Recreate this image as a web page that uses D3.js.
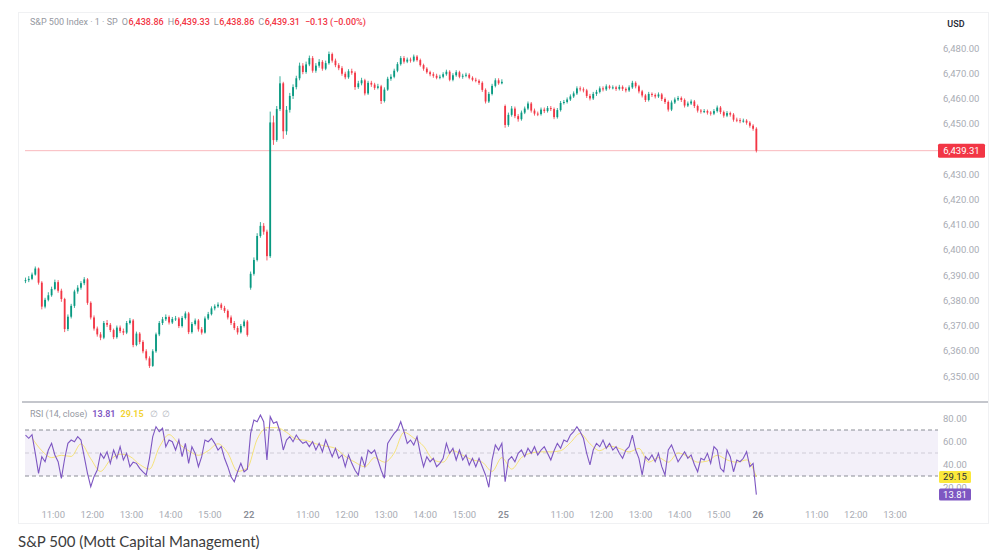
<!DOCTYPE html>
<html>
<head>
<meta charset="utf-8">
<script src="https://cdn.jsdelivr.net/npm/d3@7/dist/d3.min.js"></script>
<style>
  body { margin: 0; background: #fff; }
  svg text { font-family: Roboto, "Noto Sans", sans-serif; }
  .caption { font-family: Lato, "Open Sans", sans-serif; }
</style>
</head>
<body>
<div id="chart"></div>
<script>
// ---- data (5 minute bars) ----
var sessionNames = ["21", "22", "25", "26"];
var firstBarMinute = [45, 0, 0];          // minutes after 9:30 of the first bar shown
var sessionOpen = [6387.6, 6385.0, 6457.0];

var aug21Close = [6388.0, 6388.5, 6390.2, 6392.6, 6387.0, 6377.5, 6380.2, 6382.0, 6384.5, 6387.2,
  6383.8, 6380.5, 6368.6, 6373.5, 6377.8, 6383.5, 6385.0, 6386.8, 6388.3, 6379.0,
  6373.2, 6368.8, 6366.5, 6365.2, 6371.0, 6370.3, 6368.2, 6365.4, 6369.2, 6367.8,
  6367.2, 6371.0, 6372.0, 6362.3, 6366.8, 6363.5, 6359.8, 6357.0, 6354.0, 6359.8,
  6366.5, 6371.0, 6372.5, 6373.4, 6371.2, 6372.6, 6372.8, 6369.8, 6373.0, 6374.8,
  6367.4, 6370.6, 6372.0, 6368.5, 6367.2, 6372.8, 6374.5, 6376.8, 6377.6, 6378.3,
  6377.0, 6375.8, 6373.2, 6371.0, 6369.0, 6367.3, 6369.8, 6371.6, 6366.3];
var aug21High = [6389.0, 6389.6, 6391.0, 6393.4, 6393.0, 6387.6, 6381.0, 6383.2, 6385.4, 6388.2,
  6388.0, 6384.6, 6381.0, 6374.4, 6378.6, 6384.2, 6386.0, 6387.6, 6389.2, 6388.8,
  6379.6, 6374.0, 6369.6, 6367.4, 6371.8, 6372.2, 6371.0, 6368.8, 6370.0, 6370.0,
  6368.8, 6371.8, 6373.0, 6372.6, 6367.6, 6367.4, 6364.2, 6360.6, 6357.8, 6360.6,
  6367.2, 6371.8, 6373.4, 6374.4, 6374.0, 6373.4, 6373.8, 6373.4, 6373.8, 6375.6,
  6375.4, 6371.4, 6372.8, 6372.6, 6369.4, 6373.6, 6375.4, 6377.6, 6378.4, 6379.2,
  6379.0, 6377.8, 6376.4, 6374.0, 6371.8, 6369.8, 6370.6, 6372.4, 6372.2];
var aug21Low = [6386.8, 6387.2, 6388.0, 6389.8, 6386.2, 6376.4, 6376.8, 6379.6, 6381.4, 6384.0,
  6383.0, 6379.4, 6367.4, 6367.8, 6372.8, 6377.0, 6382.6, 6384.2, 6386.0, 6378.2,
  6372.4, 6368.0, 6365.6, 6364.2, 6364.6, 6369.4, 6367.4, 6364.6, 6364.8, 6367.0,
  6366.2, 6366.6, 6370.4, 6361.4, 6361.8, 6362.6, 6359.0, 6356.2, 6353.2, 6353.6,
  6359.2, 6365.8, 6370.2, 6371.8, 6370.4, 6370.6, 6371.8, 6369.0, 6369.2, 6372.4,
  6366.6, 6366.8, 6370.0, 6367.6, 6366.4, 6366.8, 6372.2, 6374.0, 6376.0, 6377.0,
  6376.2, 6375.0, 6372.4, 6370.2, 6368.2, 6366.4, 6366.8, 6369.2, 6365.6];

var aug22Close = [6390.5, 6396.0, 6405.5, 6409.5, 6407.2, 6397.5, 6450.5, 6443.5, 6455.8, 6466.0,
  6447.0, 6455.5, 6461.0, 6464.5, 6468.0, 6473.0, 6470.5, 6473.5, 6476.0, 6471.0,
  6473.0, 6474.5, 6471.8, 6474.0, 6477.6, 6475.0, 6473.2, 6472.0, 6469.8, 6468.4,
  6470.8, 6470.2, 6464.5, 6466.0, 6467.2, 6462.0, 6466.2, 6465.5, 6464.2, 6464.8,
  6459.0, 6463.5, 6467.8, 6468.6, 6471.0, 6473.6, 6476.0, 6474.6, 6475.4, 6475.0,
  6476.6, 6475.2, 6473.2, 6471.8, 6470.4, 6469.6, 6469.0, 6468.2, 6468.6, 6469.6,
  6470.6, 6467.4, 6469.2, 6470.4, 6468.6, 6469.0, 6469.4, 6468.2, 6467.4, 6467.0,
  6466.2, 6463.4, 6458.8, 6461.8, 6465.0, 6467.2, 6466.0, 6466.6];
var aug22High = [6391.4, 6397.0, 6406.6, 6411.0, 6410.6, 6408.0, 6454.8, 6453.2, 6457.0, 6468.8,
  6466.6, 6457.0, 6462.2, 6465.6, 6469.0, 6474.2, 6474.0, 6474.6, 6477.0, 6476.8,
  6474.0, 6475.6, 6475.2, 6475.0, 6478.6, 6478.2, 6475.8, 6474.0, 6472.8, 6470.6,
  6471.6, 6471.8, 6470.8, 6467.0, 6468.2, 6467.8, 6467.0, 6467.0, 6466.2, 6465.8,
  6465.4, 6464.4, 6468.6, 6469.6, 6471.8, 6474.4, 6476.8, 6476.8, 6476.2, 6476.2,
  6477.4, 6477.2, 6475.8, 6473.8, 6472.4, 6471.0, 6470.4, 6469.8, 6469.4, 6470.4,
  6471.4, 6471.2, 6470.0, 6471.2, 6471.0, 6469.8, 6470.2, 6470.0, 6468.8, 6468.2,
  6467.6, 6466.8, 6464.0, 6462.6, 6465.8, 6468.0, 6468.0, 6467.6];
var aug22Low = [6384.2, 6389.8, 6395.4, 6404.8, 6406.0, 6395.8, 6396.8, 6441.6, 6442.8, 6455.0,
  6444.0, 6445.6, 6454.4, 6459.8, 6463.6, 6467.2, 6469.6, 6469.8, 6472.8, 6470.2,
  6470.2, 6472.2, 6471.0, 6471.2, 6473.4, 6474.2, 6472.4, 6471.2, 6469.0, 6467.6,
  6467.8, 6469.4, 6463.4, 6463.8, 6465.2, 6461.2, 6461.4, 6464.6, 6463.4, 6463.6,
  6457.8, 6458.4, 6463.0, 6467.0, 6468.0, 6470.4, 6473.0, 6473.8, 6474.0, 6474.2,
  6474.4, 6474.6, 6472.6, 6471.0, 6469.8, 6468.8, 6468.2, 6467.6, 6467.6, 6468.0,
  6469.0, 6466.8, 6466.8, 6468.6, 6468.0, 6467.8, 6468.4, 6467.6, 6466.8, 6466.4,
  6465.4, 6462.6, 6458.0, 6458.2, 6461.2, 6464.4, 6465.4, 6465.6];

var aug25Close = [6449.5, 6453.5, 6456.0, 6453.0, 6451.8, 6454.4, 6456.0, 6458.0, 6455.2, 6454.0,
  6453.8, 6455.6, 6455.0, 6456.2, 6455.8, 6452.6, 6455.4, 6458.2, 6458.6, 6459.6,
  6460.8, 6462.0, 6464.0, 6463.6, 6463.2, 6461.0, 6460.0, 6461.8, 6462.6, 6464.0,
  6463.6, 6464.8, 6464.2, 6464.4, 6463.8, 6464.6, 6463.8, 6463.2, 6464.4, 6466.2,
  6464.8, 6462.8, 6461.2, 6459.4, 6461.8, 6461.4, 6460.8, 6461.6, 6459.8, 6458.6,
  6455.6, 6458.4, 6459.6, 6460.2, 6459.4, 6457.2, 6458.0, 6458.8, 6457.0, 6455.2,
  6454.8, 6455.0, 6454.4, 6454.0, 6455.0, 6456.4, 6454.6, 6453.2, 6454.2, 6453.6,
  6451.6, 6451.4, 6451.0, 6451.2, 6450.4, 6449.2, 6448.0, 6439.31];
var aug25High = [6457.6, 6454.4, 6457.0, 6456.8, 6453.8, 6455.2, 6456.8, 6458.8, 6458.6, 6456.0,
  6454.8, 6456.4, 6456.4, 6457.0, 6457.0, 6456.4, 6456.2, 6459.0, 6459.4, 6460.4,
  6461.6, 6462.8, 6464.8, 6464.8, 6464.4, 6463.8, 6461.8, 6462.6, 6463.4, 6464.8,
  6464.8, 6465.6, 6465.4, 6465.2, 6465.0, 6465.4, 6465.2, 6464.4, 6465.2, 6467.0,
  6466.8, 6465.4, 6463.4, 6461.8, 6462.6, 6462.4, 6462.0, 6462.4, 6462.2, 6460.4,
  6459.2, 6459.2, 6460.4, 6461.0, 6460.8, 6460.0, 6458.8, 6459.6, 6459.4, 6457.6,
  6455.8, 6455.8, 6455.6, 6455.0, 6455.8, 6457.2, 6457.0, 6455.2, 6455.0, 6454.8,
  6454.2, 6452.4, 6452.2, 6452.0, 6451.8, 6451.0, 6449.8, 6448.6];
var aug25Low = [6448.4, 6448.8, 6452.8, 6452.2, 6450.8, 6451.2, 6453.8, 6455.4, 6454.4, 6453.2,
  6453.0, 6453.2, 6454.2, 6454.4, 6455.0, 6451.8, 6452.0, 6454.8, 6457.6, 6458.0,
  6459.0, 6460.2, 6461.4, 6462.8, 6462.4, 6460.2, 6459.2, 6459.4, 6461.0, 6462.0,
  6462.8, 6463.0, 6463.6, 6463.6, 6463.0, 6463.2, 6463.0, 6462.4, 6462.6, 6463.8,
  6464.0, 6462.0, 6460.4, 6458.6, 6458.8, 6460.6, 6460.0, 6460.2, 6459.0, 6457.8,
  6454.8, 6455.0, 6457.8, 6459.0, 6458.6, 6456.4, 6456.6, 6457.4, 6456.2, 6454.4,
  6454.0, 6454.2, 6453.6, 6453.2, 6453.4, 6454.4, 6453.8, 6452.4, 6452.6, 6452.8,
  6450.8, 6450.6, 6450.2, 6450.4, 6449.6, 6448.4, 6447.2, 6438.6];

// RSI(14) per bar and its moving average (one value every 3rd bar, ending on the last bar)
var rsiAug21 = [65.6, 62.8, 66.0, 49.7, 32.3, 46.8, 42.4, 52.6, 58.4, 48.3,
  42.4, 28.0, 45.0, 58.4, 61.3, 59.8, 64.2, 61.3, 46.8, 32.3,
  20.7, 29.4, 35.2, 49.7, 45.4, 51.1, 41.0, 52.6, 45.4, 55.5,
  43.9, 49.7, 38.1, 42.0, 41.0, 36.7, 33.5, 30.9, 45.4, 64.2,
  72.9, 68.5, 71.5, 55.5, 61.3, 59.8, 52.6, 61.3, 46.8, 58.4,
  41.0, 55.5, 49.7, 38.1, 46.8, 61.3, 59.8, 62.8, 58.4, 52.6,
  55.5, 45.4, 38.1, 29.4, 25.0, 33.7, 41.0, 33.7, 36.0];
var rsiAug22 = [67.1, 78.7, 77.2, 83.0, 77.2, 43.9, 81.6, 75.8, 77.2, 68.5,
  52.6, 61.3, 64.2, 59.8, 65.6, 61.3, 58.4, 59.8, 55.5, 59.8,
  52.6, 58.4, 51.1, 61.3, 54.1, 46.8, 54.1, 45.4, 48.3, 38.1,
  48.3, 41.0, 35.0, 30.9, 46.8, 38.1, 52.6, 49.7, 52.6, 43.9,
  35.0, 28.0, 58.4, 62.8, 67.1, 70.0, 77.2, 68.5, 58.4, 61.3,
  57.0, 64.2, 49.7, 38.1, 46.8, 42.4, 45.4, 38.1, 41.0, 45.4,
  58.4, 49.7, 54.1, 43.9, 52.6, 43.9, 48.3, 39.6, 45.4, 38.1,
  45.4, 38.1, 30.9, 20.2, 43.9, 57.0, 52.6, 58.4];
var rsiAug25 = [25.0, 43.9, 46.8, 42.4, 49.7, 52.6, 46.8, 54.1, 49.7, 55.5,
  48.3, 52.6, 55.5, 49.7, 43.9, 52.0, 58.4, 54.1, 61.3, 59.8,
  65.6, 68.5, 72.9, 68.5, 62.8, 49.7, 39.6, 52.6, 58.4, 55.5,
  61.3, 54.1, 58.4, 52.6, 55.5, 49.7, 45.4, 52.6, 55.5, 65.6,
  52.6, 45.4, 30.9, 46.8, 43.9, 48.3, 42.4, 49.7, 38.1, 30.9,
  52.6, 57.0, 49.7, 42.4, 46.8, 51.1, 45.4, 48.3, 40.0, 33.7,
  45.4, 43.9, 49.7, 41.0, 55.5, 52.6, 36.7, 33.7, 52.6, 46.8,
  33.7, 43.9, 42.4, 45.4, 51.1, 38.1, 41.0, 13.81];
var maAug21 = [63, 52, 46, 48, 47, 58, 45, 34, 44, 49, 47, 40, 36, 55, 66, 58, 52, 48, 52, 58, 50, 34, 37];
var maAug22 = [62, 72, 72, 68, 62, 61, 58, 56, 54, 47, 42, 38, 46, 42, 50, 68, 63, 56, 44, 42, 52, 48, 44, 42, 34, 46];
var maAug25 = [36, 46, 50, 51, 51, 52, 59, 67, 58, 52, 56, 54, 51, 54, 42, 46, 42, 50, 47, 42, 43, 48, 44, 42, 44, 29.15];

var priceTicks = [6480, 6470, 6460, 6450, 6430, 6420, 6410, 6400, 6390, 6380, 6370, 6360, 6350];
var rsiTicks = [80, 60, 40, 20];
var hourLabels = ["11:00", "12:00", "13:00", "14:00", "15:00"];
var hourMinutes = [90, 150, 210, 270, 330];
var headerFields = ["O", "H", "L", "C"];
var headerValues = ["6,438.86", "6,439.33", "6,438.86", "6,439.31"];
var headerChange = "−0.13 (−0.00%)";
var lastPrice = 6439.31, lastRsi = 13.81, lastMa = 29.15;

// ---- build bars ----
var sessionCloses = [aug21Close, aug22Close, aug25Close];
var sessionHighs = [aug21High, aug22High, aug25High];
var sessionLows = [aug21Low, aug22Low, aug25Low];
var sessionRsi = [rsiAug21, rsiAug22, rsiAug25];
var sessionMa = [maAug21, maAug22, maAug25];

var bars = [], rsiPts = [], maPts = [];
sessionCloses.forEach(function (closes, s) {
    var prev = sessionOpen[s];
    closes.forEach(function (c, i) {
        var t = s * 390 + firstBarMinute[s] + 5 * i + 2.5;
        bars.push({ t: t, o: prev, h: sessionHighs[s][i], l: sessionLows[s][i], c: c });
        rsiPts.push({ t: t, v: sessionRsi[s][i] });
        prev = c;
    });
    var n = closes.length;
    sessionMa[s].forEach(function (v, j) {
        var i = n - 1 - 3 * (sessionMa[s].length - 1 - j);
        maPts.push({ t: s * 390 + firstBarMinute[s] + 5 * i + 2.5, v: v });
    });
});

// ---- svg ----
var W = 1006, H = 552;
var svg = d3.select('#chart').append('svg').attr('width', W).attr('height', H);
svg.append('rect').attr('width', W).attr('height', H).attr('fill', '#fff');
svg.append('rect').attr('x', 18.5).attr('y', 12.5).attr('width', 970).attr('height', 511)
    .attr('fill', 'none').attr('stroke', '#f0f1f3');

var x = d3.scaleLinear().domain([390, 780]).range([249, 503.5]);
var y = d3.scaleLinear().domain([6350, 6480]).range([376, 48]);
var yR = d3.scaleLinear().domain([10, 90]).range([499, 407]);
var plotLeft = 25, plotRight = 936;
var up = '#089981', down = '#f23645';
var tickColor = '#a9acb4';
var fs = 9.5;

// Header (flowing tspans)
var head = svg.append('text').attr('x', 30).attr('y', 25).attr('font-size', 9);
head.append('tspan').attr('fill', '#9598a1').text('S&P 500 Index · 1 · SP');
headerFields.forEach(function (f, i) {
    head.append('tspan').attr('dx', 4).attr('fill', '#9598a1').text(f);
    head.append('tspan').attr('dx', 0.5).attr('fill', down).attr('font-weight', 500).text(headerValues[i]);
});
head.append('tspan').attr('dx', 5).attr('fill', down).attr('font-weight', 500).text(headerChange);

svg.append('text').attr('x', 956).attr('y', 27).attr('text-anchor', 'middle')
    .attr('font-size', fs - 0.5).attr('font-weight', 600).attr('fill', '#2a2e39').text('USD');

// Price axis labels
svg.append('g').selectAll('text').data(priceTicks).enter().append('text')
    .attr('x', 943).attr('y', function (d) { return y(d) + 3.5; })
    .attr('font-size', fs).attr('fill', tickColor)
    .text(function (d) { return d3.format(',.2f')(d); });

// Last price line + label
svg.append('line').attr('x1', plotLeft).attr('x2', plotRight + 2)
    .attr('y1', y(lastPrice)).attr('y2', y(lastPrice))
    .attr('stroke', down).attr('stroke-opacity', 0.35);
svg.append('rect').attr('x', 938).attr('y', y(lastPrice) - 7).attr('width', 47).attr('height', 14)
    .attr('rx', 1.5).attr('fill', down);
svg.append('text').attr('x', 961.5).attr('y', y(lastPrice) + 3.5).attr('text-anchor', 'middle')
    .attr('font-size', fs).attr('fill', '#fff').text(d3.format(',.2f')(lastPrice));

// Candles
var g = svg.append('g');
g.selectAll('line.wick').data(bars).enter().append('line')
    .attr('class', 'wick')
    .attr('x1', function (d) { return x(d.t); }).attr('x2', function (d) { return x(d.t); })
    .attr('y1', function (d) { return y(d.h); }).attr('y2', function (d) { return y(d.l); })
    .attr('stroke', function (d) { return d.c >= d.o ? up : down; }).attr('stroke-width', 0.8);
g.selectAll('rect.body').data(bars).enter().append('rect')
    .attr('class', 'body')
    .attr('x', function (d) { return x(d.t) - 0.9; }).attr('width', 1.8)
    .attr('y', function (d) { return y(Math.max(d.o, d.c)); })
    .attr('height', function (d) { return Math.max(1, Math.abs(y(d.o) - y(d.c))); })
    .attr('fill', function (d) { return d.c >= d.o ? up : down; });

// Pane separator
svg.append('line').attr('x1', 22).attr('x2', 988).attr('y1', 402).attr('y2', 402)
    .attr('stroke', '#c4c6cc').attr('stroke-width', 2);

// RSI pane
svg.append('rect').attr('x', plotLeft).attr('width', 938 - plotLeft)
    .attr('y', yR(70)).attr('height', yR(30) - yR(70)).attr('fill', '#7e57c2').attr('fill-opacity', 0.09);
[70, 30].forEach(function (v) {
    svg.append('line').attr('x1', plotLeft).attr('x2', 938).attr('y1', yR(v)).attr('y2', yR(v))
        .attr('stroke', '#8a8d96').attr('stroke-dasharray', '4,3');
});
svg.append('line').attr('x1', plotLeft).attr('x2', 938).attr('y1', yR(50)).attr('y2', yR(50))
    .attr('stroke', '#8a8d96').attr('stroke-opacity', 0.35).attr('stroke-dasharray', '4,3');

svg.append('path').datum(maPts)
    .attr('d', d3.line().x(function (d) { return x(d.t); }).y(function (d) { return yR(d.v); }).curve(d3.curveMonotoneX))
    .attr('fill', 'none').attr('stroke', '#f5dc45').attr('stroke-width', 1).attr('stroke-opacity', 0.7);
svg.append('path').datum(rsiPts)
    .attr('d', d3.line().x(function (d) { return x(d.t); }).y(function (d) { return yR(d.v); }))
    .attr('fill', 'none').attr('stroke', '#7e57c2').attr('stroke-width', 1.1);

svg.append('g').selectAll('text').data(rsiTicks).enter().append('text')
    .attr('x', 943).attr('y', function (d) { return yR(d) + 3.5; })
    .attr('font-size', fs).attr('fill', tickColor)
    .text(function (d) { return d3.format('.2f')(d); });

svg.append('rect').attr('x', 939).attr('y', yR(lastMa) - 6).attr('width', 32).attr('height', 12)
    .attr('rx', 1.5).attr('fill', '#fbe83c');
svg.append('text').attr('x', 955).attr('y', yR(lastMa) + 3.5).attr('text-anchor', 'middle')
    .attr('font-size', fs).attr('fill', '#2a2e39').text(d3.format('.2f')(lastMa));
svg.append('rect').attr('x', 939).attr('y', yR(lastRsi) - 6).attr('width', 32).attr('height', 12)
    .attr('rx', 1.5).attr('fill', '#7e57c2');
svg.append('text').attr('x', 955).attr('y', yR(lastRsi) + 3.5).attr('text-anchor', 'middle')
    .attr('font-size', fs).attr('fill', '#fff').text(d3.format('.2f')(lastRsi));

var rsiHead = svg.append('text').attr('x', 30).attr('y', 417).attr('font-size', 9);
rsiHead.append('tspan').attr('fill', '#9598a1').text('RSI (14, close)');
rsiHead.append('tspan').attr('dx', 5).attr('fill', '#7e57c2').attr('font-weight', 600).text(d3.format('.2f')(lastRsi));
rsiHead.append('tspan').attr('dx', 5).attr('fill', '#f2d22e').attr('font-weight', 600).text(d3.format('.2f')(lastMa));
rsiHead.append('tspan').attr('dx', 6).attr('fill', '#b2b5be').text('∅');
rsiHead.append('tspan').attr('dx', 4).attr('fill', '#b2b5be').text('∅');

// Time axis
var timeTicks = [];
sessionNames.forEach(function (name, s) {
    if (s > 0) timeTicks.push({ t: s * 390, label: name, day: true });
    hourMinutes.forEach(function (m, k) { timeTicks.push({ t: s * 390 + m, label: hourLabels[k], day: false }); });
});
svg.append('g').selectAll('text')
    .data(timeTicks.filter(function (d) { return x(d.t) > plotLeft + 10 && x(d.t) < plotRight - 15; }))
    .enter().append('text')
    .attr('x', function (d) { return x(d.t); }).attr('y', 518).attr('text-anchor', 'middle')
    .attr('font-size', fs)
    .attr('font-weight', function (d) { return d.day ? 600 : 400; })
    .attr('fill', function (d) { return d.day ? '#8a8d96' : tickColor; })
    .text(function (d) { return d.label; });

// Caption
svg.append('text').attr('class', 'caption').attr('x', 18).attr('y', 547)
    .attr('font-size', 15).attr('fill', '#3c3c3c').text('S&P 500 (Mott Capital Management)');
</script>
</body>
</html>
